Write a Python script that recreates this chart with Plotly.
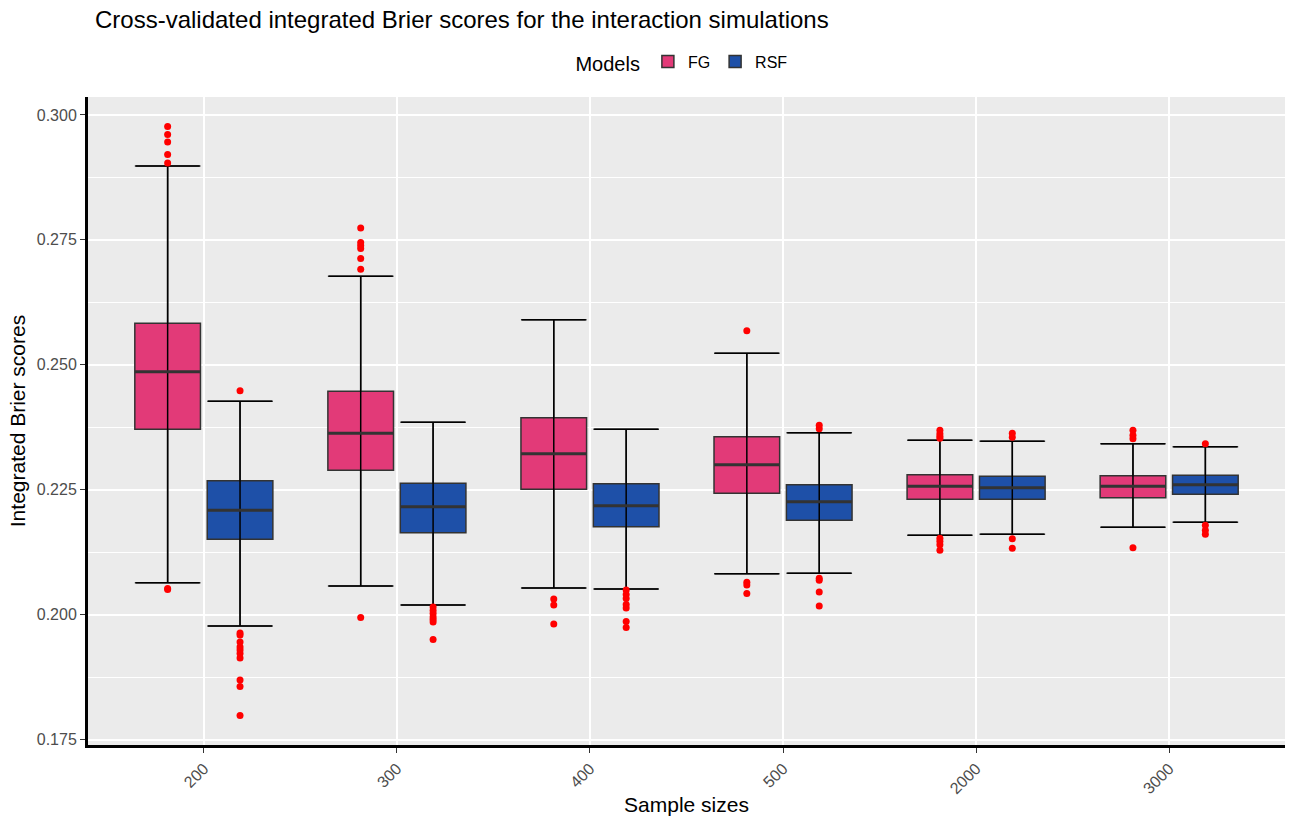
import plotly.graph_objects as go

# Sample-size groups on the x axis
sample_sizes = ["200", "300", "400", "500", "2000", "3000"]

# Five-number summaries (whisker ends = 1.5 IQR fences) per model
fg_lower = [0.2064, 0.2057, 0.2053, 0.2082, 0.2159, 0.2175]
fg_q1 = [0.2371, 0.2289, 0.2251, 0.2243, 0.2231, 0.2234]
fg_median = [0.2486, 0.2363, 0.2322, 0.2300, 0.2257, 0.2257]
fg_q3 = [0.2583, 0.2447, 0.2394, 0.2356, 0.2280, 0.2278]
fg_upper = [0.2898, 0.2677, 0.2590, 0.2523, 0.2349, 0.2342]

rsf_lower = [0.1977, 0.2019, 0.2051, 0.2083, 0.2161, 0.2185]
rsf_q1 = [0.2151, 0.2164, 0.2176, 0.2189, 0.2231, 0.2241]
rsf_median = [0.2209, 0.2216, 0.2218, 0.2226, 0.2254, 0.2260]
rsf_q3 = [0.2268, 0.2263, 0.2262, 0.2260, 0.2277, 0.2279]
rsf_upper = [0.2427, 0.2385, 0.2371, 0.2364, 0.2347, 0.2336]

# Outlying replicates per sample-size group
fg_outliers = [
    [0.2977, 0.2961, 0.2946, 0.2921, 0.2904, 0.2052, 0.2050],
    [0.2774, 0.2745, 0.2739, 0.2733, 0.2713, 0.2691, 0.1994],
    [0.2031, 0.2019, 0.1981],
    [0.2568, 0.2065, 0.2059, 0.2042],
    [0.2369, 0.2362, 0.2357, 0.2353, 0.2153, 0.2147, 0.2140, 0.2129],
    [0.2369, 0.2359, 0.2352, 0.2134],
]
rsf_outliers = [
    [0.2448, 0.1963, 0.1959, 0.1945, 0.1935, 0.1929, 0.1922, 0.1913, 0.1869, 0.1856, 0.1798],
    [0.2015, 0.2008, 0.2002, 0.1995, 0.1990, 0.1985, 0.1950],
    [0.2049, 0.2040, 0.2032, 0.2020, 0.2013, 0.1986, 0.1974],
    [0.2379, 0.2372, 0.2073, 0.2069, 0.2045, 0.2017],
    [0.2363, 0.2355, 0.2152, 0.2133],
    [0.2342, 0.2179, 0.2169, 0.2161],
]

models = [
    ("FG", "#E23A78", -0.1875, fg_lower, fg_q1, fg_median, fg_q3, fg_upper, fg_outliers),
    ("RSF", "#1E50A8", 0.1875, rsf_lower, rsf_q1, rsf_median, rsf_q3, rsf_upper, rsf_outliers),
]

BOX_W = 0.34
FONT = "Liberation Sans, Arial, sans-serif"
fig = go.Figure()

for name, color, offset, lo, q1, med, q3, hi, outl in models:
    pos = [i + offset for i in range(len(sample_sizes))]
    fig.add_trace(go.Box(
        name=name, legendgroup=name, x=pos,
        q1=q1, median=med, q3=q3, lowerfence=lo, upperfence=hi,
        width=BOX_W, fillcolor=color, whiskerwidth=1,
        line=dict(color="#333333", width=1.5),
        boxpoints=False, hoverinfo="skip",
    ))
    # whiskers with caps, drawn through the box as an error bar
    fig.add_trace(go.Scatter(
        x=pos, y=med, mode="markers", legendgroup=name, showlegend=False,
        marker=dict(size=1, color="rgba(0,0,0,0)"),
        error_y=dict(type="data", symmetric=False,
                     array=[h - m for h, m in zip(hi, med)],
                     arrayminus=[m - l for m, l in zip(med, lo)],
                     color="black", thickness=1.5, width=32),
        hoverinfo="skip",
    ))
    # heavier median line
    fig.add_trace(go.Scatter(
        x=pos, y=med, mode="markers", legendgroup=name, showlegend=False,
        marker=dict(size=1, color="rgba(0,0,0,0)"),
        error_x=dict(type="constant", value=BOX_W / 2, color="#333333",
                     thickness=3, width=0),
        hoverinfo="skip",
    ))
    ox, oy = [], []
    for i, vals in enumerate(outl):
        ox += [i + offset] * len(vals)
        oy += vals
    fig.add_trace(go.Scatter(
        x=ox, y=oy, mode="markers", legendgroup=name, showlegend=False,
        marker=dict(color="#FF0000", size=7),
        hoverinfo="skip",
    ))

tick_font = dict(family=FONT, size=16, color="#4D4D4D")

fig.update_layout(
    width=1290, height=816,
    margin=dict(l=88, r=5, t=97, b=71),
    paper_bgcolor="white", plot_bgcolor="#EBEBEB",
    boxmode="overlay",
    font=dict(family=FONT, color="black"),
    title=dict(text="Cross-validated integrated Brier scores for the interaction simulations",
               x=95 / 1290, xanchor="left", y=1 - 20 / 816, yanchor="middle",
               font=dict(size=24, color="black")),
    legend=dict(orientation="h", x=0.497, xanchor="center", y=1.053, yanchor="middle",
                title=dict(text="Models", font=dict(size=20)),
                font=dict(size=16), bgcolor="rgba(0,0,0,0)",
                itemwidth=30, tracegroupgap=0),
    xaxis=dict(
        range=[-0.6, 5.6], tickmode="array",
        tickvals=list(range(len(sample_sizes))), ticktext=sample_sizes,
        tickangle=-45, tickfont=tick_font, automargin=False,
        ticks="outside", ticklen=5, tickcolor="#333333",
        showgrid=True, gridcolor="white", gridwidth=1.5,
        zeroline=False, showline=True, linecolor="black", linewidth=3,
        title=dict(text="Sample sizes", font=dict(size=21), standoff=4),
    ),
    yaxis=dict(
        range=[0.1739, 0.3036], tickmode="array",
        tickvals=[0.175, 0.200, 0.225, 0.250, 0.275, 0.300], tickformat=".3f",
        tickfont=tick_font, ticks="outside", ticklen=5, tickcolor="#333333",
        automargin=False,
        showgrid=True, gridcolor="white", gridwidth=1.5,
        minor=dict(tickvals=[0.1875, 0.2125, 0.2375, 0.2625, 0.2875],
                   showgrid=True, gridcolor="white", gridwidth=0.7, ticks=""),
        zeroline=False, showline=True, linecolor="black", linewidth=3,
        title=dict(text="Integrated Brier scores", font=dict(size=21), standoff=6),
    ),
)

fig.write_html("out.html")
